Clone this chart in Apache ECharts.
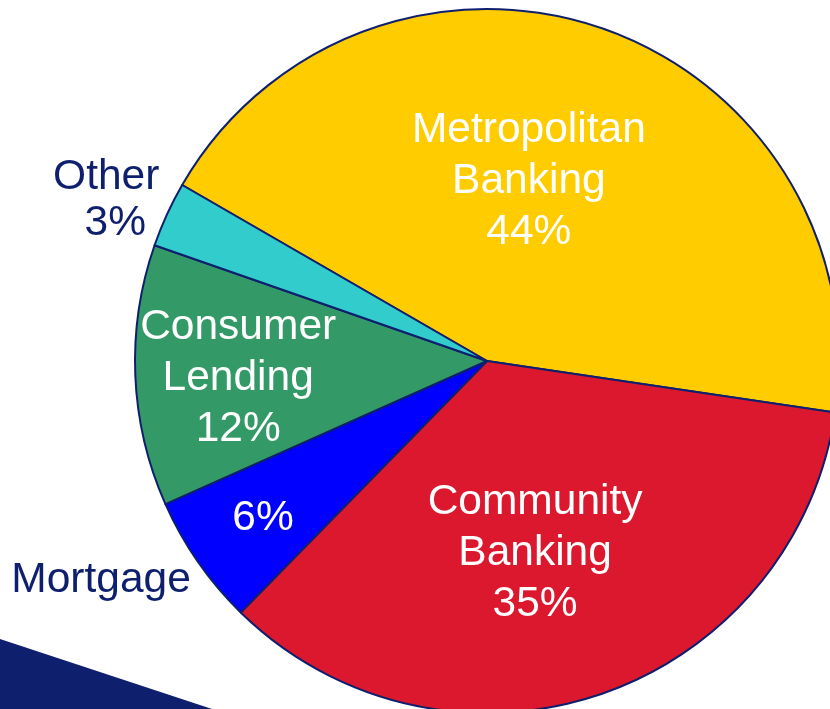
<!DOCTYPE html>
<html>
<head>
<meta charset="utf-8">
<style>html,body{margin:0;padding:0;background:#fff;}#c{width:830px;height:709px;}</style>
<script src="https://cdn.jsdelivr.net/npm/echarts@6/dist/echarts.min.js"></script>
</head>
<body>
<div id="c"></div>
<script>
const categories = ['Metropolitan Banking', 'Community Banking', 'Mortgage', 'Consumer Lending', 'Other'];
const labelNames = ['Metropolitan\nBanking', 'Community\nBanking', 'Mortgage', 'Consumer\nLending', 'Other'];
const values = [44, 35, 6, 12, 3];
const colors = ['#FFCC00', '#DC182E', '#0000FF', '#339966', '#33CCCC'];
// which labels sit inside the slice (white) and which outside (navy)
const insideLabel = ['name+value', 'name+value', 'value', 'name+value', 'none'];
const outsideLabel = ['none', 'none', 'name', 'none', 'name+value'];
// label nudges from the default inside position
const insideShift = [[-17, -11], [-9, 23], [-77, 55], [-70, 10], [0, 0]];
const outsideShift = [[0, 0], [0, 0], [-239, 117], [0, 0], [-218, -86]];

const navy = '#0E1F6E';
const font = '"Liberation Sans", Arial, sans-serif';

function fmt(kind, i) {
  if (kind === 'name+value') return '{n|' + labelNames[i].split('\n').join('}\n{n|') + '}\n{v|' + values[i] + '%}';
  if (kind === 'value') return '{n|' + values[i] + '%}';
  if (kind === 'name') return '{n|' + labelNames[i] + '}';
  return '';
}

const chart = echarts.init(document.getElementById('c'));
const center = [487, 361];
const radius = 352;

const option = {
  animation: false,
  graphic: [{
    type: 'polygon',
    z: -1,
    shape: { points: [[0, 639], [212, 709], [0, 709]] },
    style: { fill: navy }
  }],
  series: [{
    type: 'pie',
    center: center,
    radius: radius,
    startAngle: 150,
    clockwise: true,
    avoidLabelOverlap: false,
    itemStyle: { borderColor: navy, borderWidth: 2 },
    emphasis: { disabled: true },
    labelLine: { show: false },
    labelLayout: function (p) {
      return { dx: insideShift[p.dataIndex][0], dy: insideShift[p.dataIndex][1] };
    },
    data: categories.map((c, i) => ({
      name: c,
      value: values[i],
      itemStyle: { color: colors[i] },
      label: {
        show: insideLabel[i] !== 'none',
        position: 'inside',
        formatter: fmt(insideLabel[i], i),
        color: '#FFFFFF',
        fontFamily: font,
        align: 'center',
        rich: {
          n: { fontSize: 42.5, lineHeight: 51, fontFamily: font, color: '#FFFFFF' },
          v: { fontSize: 42.5, lineHeight: 51, fontFamily: font, color: '#FFFFFF' }
        }
      }
    }))
  }, {
    type: 'pie',
    center: center,
    radius: radius,
    startAngle: 150,
    clockwise: true,
    silent: true,
    z: 3,
    avoidLabelOverlap: false,
    itemStyle: { color: 'rgba(0,0,0,0)', borderWidth: 0 },
    labelLine: { show: false },
    labelLayout: function (p) {
      return { dx: outsideShift[p.dataIndex][0], dy: outsideShift[p.dataIndex][1] };
    },
    data: categories.map((c, i) => ({
      name: c,
      value: values[i],
      label: {
        show: outsideLabel[i] !== 'none',
        position: 'inside',
        formatter: fmt(outsideLabel[i], i),
        color: navy,
        fontFamily: font,
        align: 'center',
        rich: {
          n: { fontSize: 42.5, lineHeight: 46, fontFamily: font, color: navy },
          v: { fontSize: 42.5, lineHeight: 46, fontFamily: font, color: navy, padding: [0, 0, 0, 18] }
        }
      }
    }))
  }]
};
chart.setOption(option);
</script>
</body>
</html>
